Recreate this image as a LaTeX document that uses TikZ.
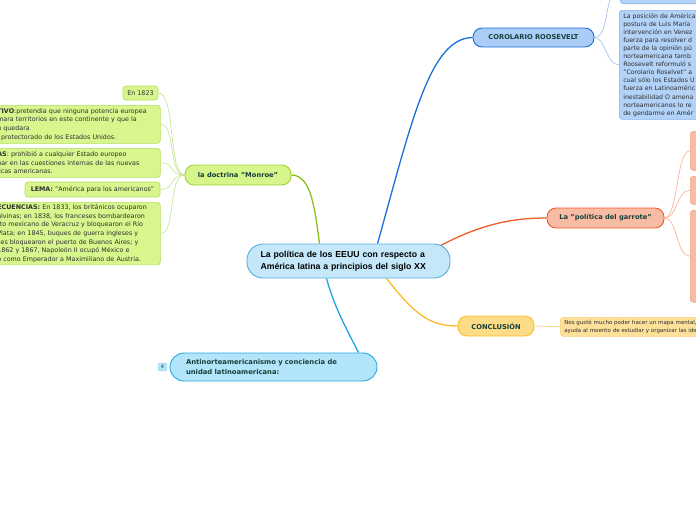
\documentclass[tikz,border=0pt]{standalone}
\usepackage{fontspec}
\setmainfont{DejaVu Sans}
\newfontfamily\arialf{Liberation Sans}
\usetikzlibrary{calc,backgrounds}
\definecolor{tcol}{HTML}{17403A}
\definecolor{ltext}{HTML}{2E2E2E}
\definecolor{cfill}{HTML}{C4E8FA}\definecolor{cdraw}{HTML}{55AEDB}
\definecolor{gfill}{HTML}{D6F58A}\definecolor{gdraw}{HTML}{9FD03A}\definecolor{gline}{HTML}{8CBE1E}
\definecolor{glfill}{HTML}{D8F68E}\definecolor{gldraw}{HTML}{B4DE5C}\definecolor{glline}{HTML}{C8E69A}
\definecolor{bfill}{HTML}{A9CDF7}\definecolor{bdraw}{HTML}{1E6FD9}\definecolor{bline}{HTML}{1A6FD8}
\definecolor{blfill}{HTML}{B2D2F7}\definecolor{bldraw}{HTML}{85B1EA}\definecolor{blline}{HTML}{A5C5EF}
\definecolor{rfill}{HTML}{F8BCA5}\definecolor{rdraw}{HTML}{F05A28}\definecolor{rline}{HTML}{EF5A28}
\definecolor{rldraw}{HTML}{F5A58A}\definecolor{rlline}{HTML}{F9B59A}
\definecolor{yfill}{HTML}{FDDC87}\definecolor{ydraw}{HTML}{F9BF2E}\definecolor{yline}{HTML}{F9BB27}
\definecolor{ylfill}{HTML}{FDE09A}\definecolor{yldraw}{HTML}{F8D07A}
\definecolor{afill}{HTML}{B2E4FA}\definecolor{adraw}{HTML}{29A8E0}\definecolor{aline}{HTML}{1FA5E3}
\begin{document}
\begin{tikzpicture}[x=1pt,y=-1pt,
  mainnode/.style={draw=cdraw,fill=cfill,rounded corners=16,line width=0.9,minimum height=34,
    text width=176,inner xsep=13.5,inner ysep=0,align=left,text=black,
    font=\arialf\bfseries\fontsize{8.7}{12.5}\selectfont},
  topic/.style={rounded corners=9,line width=0.9,minimum height=20,inner sep=1,text=tcol,
    font=\bfseries\fontsize{6.7}{8}\selectfont},
  leaf/.style={rounded corners=3,line width=0.6,inner xsep=3,inner ysep=2,align=left,text=ltext,
    font=\fontsize{6.35}{8.7}\selectfont},
  conn/.style={line width=1.3},
  sub/.style={line width=0.7}]
\useasboundingbox (0,0) rectangle (696,520);
\clip (0,0) rectangle (696,520);

% central node
\node[mainnode] (c) at (348.5,261) {La política de los EEUU con respecto a\\América latina a principios del siglo XX};

% main topics
\node[topic,draw=gdraw,fill=gfill,minimum width=106] (monroe) at (238,175) {la doctrina "Monroe"};
\node[topic,draw=bdraw,fill=bfill,minimum width=121,minimum height=19] (coro) at (533.5,37.5) {COROLARIO ROOSEVELT};
\node[topic,draw=rdraw,fill=rfill,minimum width=117] (garr) at (605.5,218) {La "política del garrote"};
\node[topic,draw=ydraw,fill=yfill,minimum width=76] (conc) at (496,326) {CONCLUSIÓN};
\node[topic,draw=adraw,fill=afill,rounded corners=14,minimum height=28,text width=175,inner xsep=16,
  align=left,font=\bfseries\fontsize{6.8}{10.5}\selectfont] (anti) at (273.5,367)
  {Antinorteamericanismo y conciencia de\\unidad latinoamericana:};
\node[fill=afill,draw=afill!80!adraw,rounded corners=2,minimum width=9,minimum height=8,inner sep=0,
  text=tcol,font=\fontsize{5}{5}\selectfont] (badge) at (162.5,367) {4};

% Monroe leaves
\node[leaf,draw=gldraw,fill=glfill,minimum width=35,minimum height=14] (m0) at (140.5,93) {En 1823};
\node[leaf,draw=gldraw,fill=glfill,anchor=north west,text width=160,minimum height=38] (m1) at (-6,105)
  {\textbf{TIVO}:pretendia que ninguna potencia europea\\mara territorios en este continente y que la\\n quedara\\l protectorado de los Estados Unidos.};
\node[leaf,draw=gldraw,fill=glfill,anchor=north west,text width=160,minimum height=29] (m2) at (-6,148)
  {\textbf{AS}: prohibió a cualquier Estado europeo\\par en las cuestiones internas de las nuevas\\licas americanas.};
\node[leaf,draw=gldraw,fill=glfill,minimum width=135,minimum height=15] (m3) at (92.5,189.5)
  {\textbf{LEMA:} "América para los americanos"};
\node[leaf,draw=gldraw,fill=glfill,anchor=north west,text width=160,minimum height=62] (m4) at (-6,202)
  {\textbf{ECUENCIAS:} En 1833, los británicos ocuparon\\alvinas; en 1838, los franceses bombardearon\\rto mexicano de Veracruz y bloquearon el Río\\ Plata; en 1845, buques de guerra ingleses y\\ses bloquearon el puerto de Buenos Aires; y\\ 1862 y 1867, Napoleón II ocupó México e\\ó como Emperador a Maximiliano de Austria.};

% Corolario leaves
\node[leaf,draw=bldraw,fill=blfill,anchor=south west,minimum width=90,minimum height=20] (k0) at (620,4) {};
\node[leaf,draw=bldraw,fill=blfill,anchor=north west,text width=120,minimum height=109,inner xsep=4,
  font=\fontsize{6.2}{8.1}\selectfont] (k1) at (619,10)
  {La posición de América\\postura de Luis María\\intervención en Venez\\fuerza para resolver d\\parte de la opinión pú\\ norteamericana tamb\\Roosevelt reformuló s\\"Corolario Roselvet" a\\cual sólo los Estados U\\fuerza en Latinoaméric\\inestabilidad O amena\\norteamericanos lo re\\de gendarme en Amér};

% Garrote leaves
\node[leaf,draw=rldraw,fill=rfill,anchor=north west,minimum width=30,minimum height=39] (g1) at (690,131) {};
\node[leaf,draw=rldraw,fill=rfill,anchor=north west,minimum width=30,minimum height=28] (g2) at (690,176) {};
\node[leaf,draw=rldraw,fill=rfill,anchor=north west,minimum width=30,minimum height=92] (g3) at (690,210) {};

% Conclusion leaf
\node[leaf,draw=yldraw,fill=ylfill,anchor=north west,text width=160,minimum height=19,inner xsep=4,
  font=\fontsize{5.5}{7.2}\selectfont] (y1) at (560,317)
  {Nos gustó mucho poder hacer un mapa mental, \\ayuda al moento de estudiar y organizar las ide};

\begin{scope}[on background layer]
  \draw[conn,gline] ($(c.north west)+(73,0)$) .. controls (315,212) and (312,175) .. (monroe.east);
  \draw[conn,bline] ($(c.north west)+(131,0)$) .. controls (412,120) and (430,38) .. (coro.west);
  \draw[conn,rline] ($(c.north east)+(-10,2)$) .. controls (480,225) and (510,218) .. (garr.west);
  \draw[conn,yline] ($(c.south west)+(140,0)$) .. controls (415,315) and (430,326) .. (conc.west);
  \draw[conn,aline] ($(c.south west)+(80,0)$) .. controls (335,310) and (350,335) .. ($(anti.north east)+(-19,0)$);
  \foreach \t in {m0,m1,m2,m3,m4}
    \draw[sub,glline] (monroe.west) .. controls (168,175) and (176,0 |- \t.east) .. (\t.east);
  \draw[sub,blline] (coro.east) .. controls (606,38) and (606,10) .. ($(k0.south west)+(-10,-4)$);
  \draw[sub,blline] (coro.east) .. controls (606,38) and (606,65) .. (k1.west);
  \foreach \t in {g1,g2,g3}
    \draw[sub,rlline] (garr.east) .. controls (678,218) and (676,0 |- \t.west) .. (\t.west);
  \draw[sub,yldraw] (conc.east) -- (y1.west);
\end{scope}
\end{tikzpicture}
\end{document}
